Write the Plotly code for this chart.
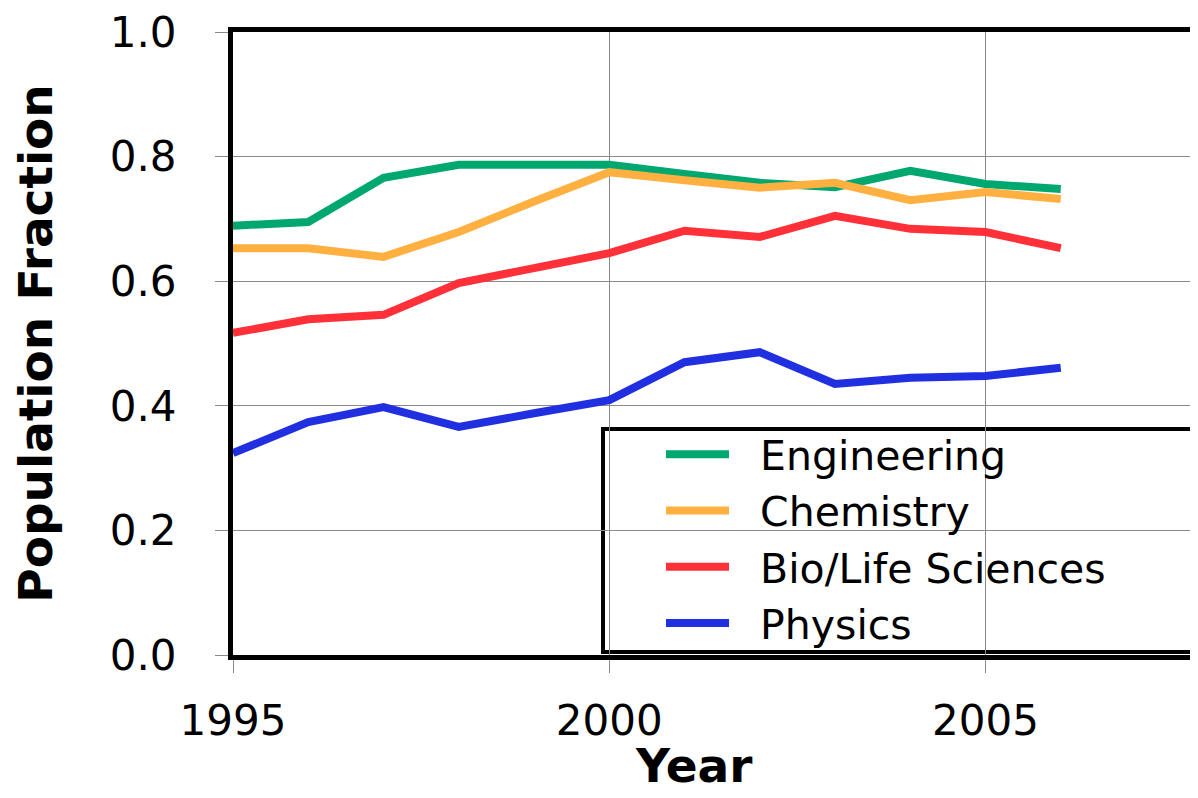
import plotly.graph_objects as go

years = [1995, 1996, 1997, 1998, 1999, 2000, 2001, 2002, 2003, 2004, 2005, 2006]
engineering = [0.689, 0.695, 0.766, 0.787, 0.787, 0.787, 0.772, 0.758, 0.751, 0.777, 0.756, 0.748]
chemistry = [0.653, 0.653, 0.639, 0.679, 0.728, 0.775, 0.762, 0.750, 0.758, 0.730, 0.743, 0.732]
bio_life = [0.517, 0.539, 0.546, 0.597, 0.621, 0.645, 0.681, 0.671, 0.705, 0.684, 0.679, 0.653]
physics = [0.324, 0.374, 0.398, 0.366, 0.388, 0.409, 0.470, 0.486, 0.435, 0.445, 0.448, 0.461]

series_names = ["Engineering", "Chemistry", "Bio/Life Sciences", "Physics"]
series_values = [engineering, chemistry, bio_life, physics]
series_colors = ["#00A870", "#FFB040", "#FF3038", "#2030E0"]

x_ticks = [1995, 2000, 2005]
y_ticks = [0.0, 0.2, 0.4, 0.6, 0.8, 1.0]
y_tick_labels = ["0.0", "0.2", "0.4", "0.6", "0.8", "1.0"]

FONT = "DejaVu Sans"
NB = "\u00a0"

fig = go.Figure()
for name, vals, col in zip(series_names, series_values, series_colors):
    fig.add_trace(go.Scatter(x=years, y=vals, mode="lines", name=NB * 2 + name,
                             line=dict(color=col, width=8)))

# page has an 8px body margin; figure sized/margined so the plot frame lands where wanted
W, H = 1190, 790
L, R, T, B = 225, 0, 24, 143
pw, ph = W - L - R, H - T - B
OFF = 8
PLOT_LEFT = L + OFF      # screen px
PLOT_BOTTOM = T + OFF + ph


def sx(px):
    return (px - PLOT_LEFT) / pw


def sy(py):
    return (PLOT_BOTTOM - py) / ph


# legend box
fig.add_shape(type="rect", xref="paper", yref="paper",
              x0=sx(603), x1=sx(1193), y0=sy(652), y1=sy(429),
              fillcolor="white", line=dict(color="black", width=4), layer="between")

fig.add_annotation(text="<b>Year</b>", xref="paper", yref="paper",
                   x=sx(694), y=sy(766), xanchor="center", yanchor="middle",
                   showarrow=False, font=dict(family=FONT, size=47, color="black"))

fig.update_layout(
    width=W, height=H,
    margin=dict(l=L, r=R, t=T, b=B),
    paper_bgcolor="white", plot_bgcolor="white",
    font=dict(family=FONT, color="black"),
    showlegend=True,
    legend=dict(x=sx(661), y=sy(421), xanchor="left", yanchor="top",
                bgcolor="rgba(0,0,0,0)", borderwidth=0,
                font=dict(family=FONT, size=41, color="black"),
                itemwidth=63, tracegroupgap=0),
    xaxis=dict(range=[1995, 1995 + pw / 75.25], tickvals=x_ticks, ticktext=[str(v) for v in x_ticks],
               showgrid=True, gridcolor="#8a8a8a", gridwidth=1,
               showline=True, linecolor="black", linewidth=5, mirror=True,
               ticks="outside", ticklen=13, tickcolor="#8a8a8a", tickwidth=1,
               tickfont=dict(family=FONT, size=42, color="black"),
               ticklabelstandoff=12, ticklabeloverflow="allow",
               zeroline=False),
    yaxis=dict(range=[0, 1.0], tickvals=y_ticks, ticktext=y_tick_labels,
               showgrid=True, gridcolor="#8a8a8a", gridwidth=1,
               showline=True, linecolor="black", linewidth=5, mirror=False,
               ticks="outside", ticklen=13, tickcolor="#8a8a8a", tickwidth=1,
               tickfont=dict(family=FONT, size=42, color="black"),
               ticklabelstandoff=30, ticklabeloverflow="allow",
               zeroline=False,
               title=dict(text="<b>Population Fraction</b>", font=dict(family=FONT, size=47, color="black"), standoff=54)),
)

fig.write_html("out.html")
